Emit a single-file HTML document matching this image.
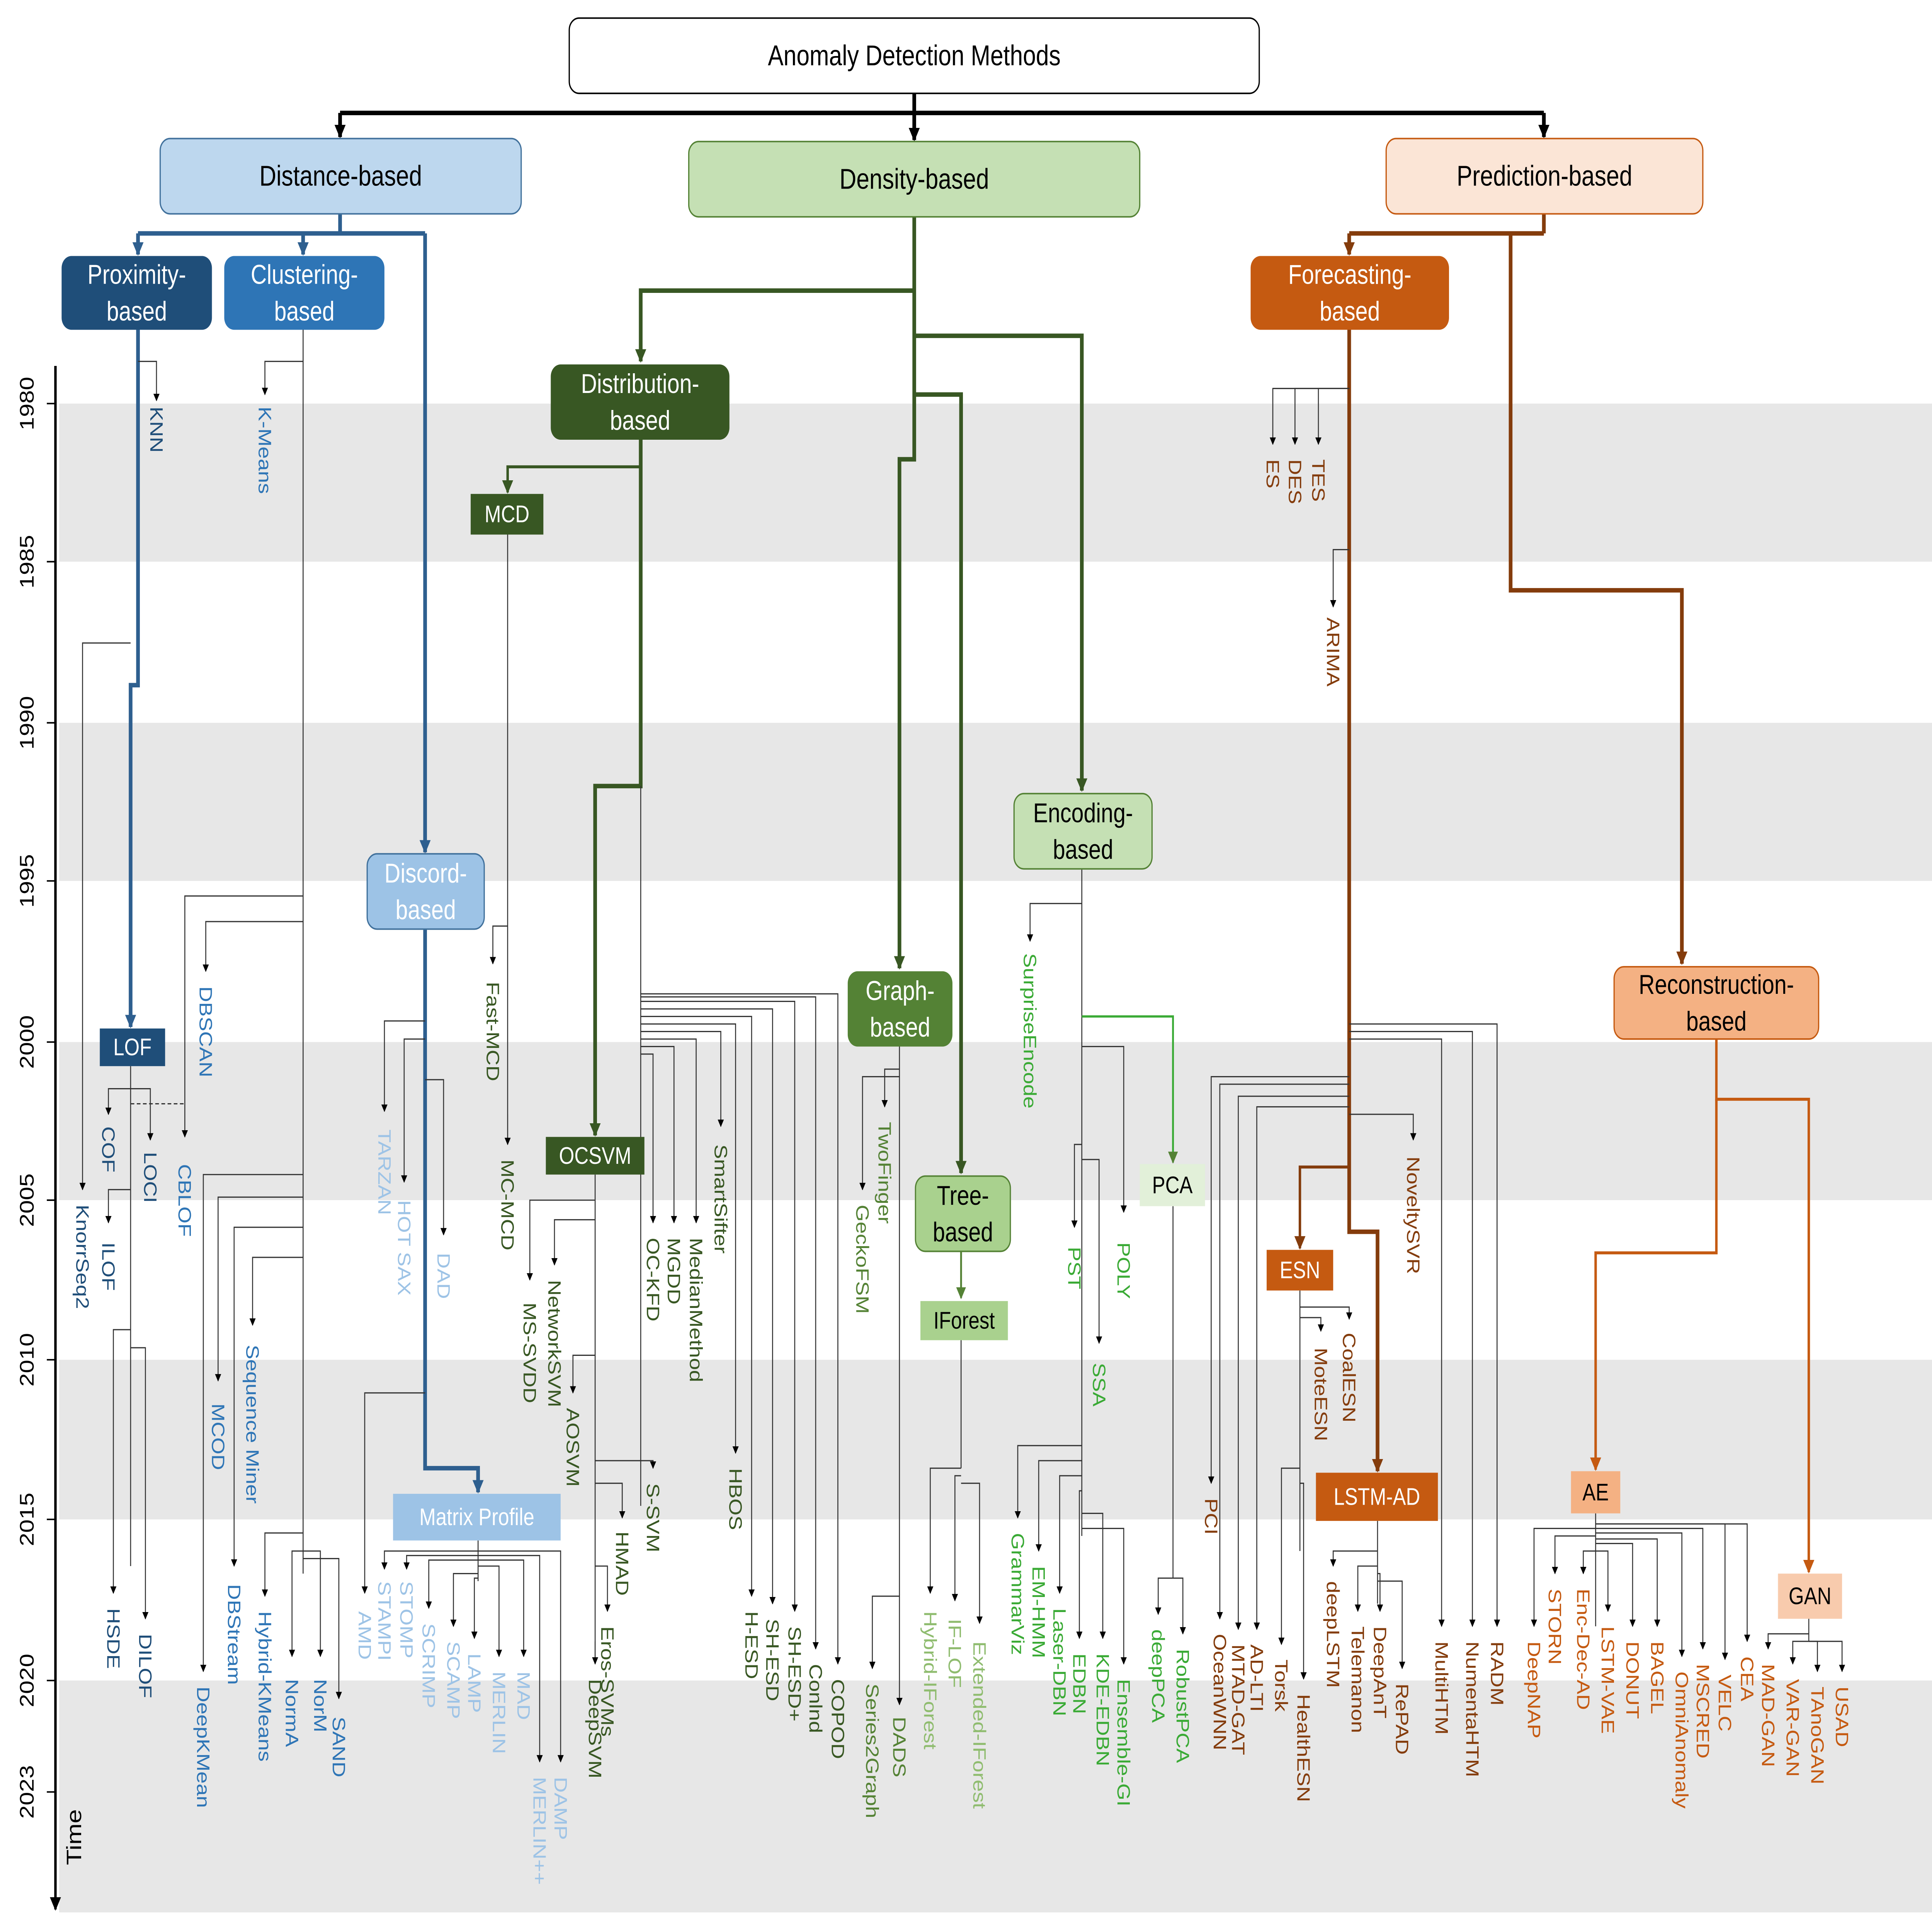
<!DOCTYPE html>
<html><head><meta charset="utf-8">
<style>html,body{margin:0;padding:0;background:#fff;overflow:hidden;width:100vw;height:100vh}svg{display:block;width:100vw;height:100vh}</style>
</head><body>
<svg id="s" xmlns="http://www.w3.org/2000/svg" viewBox="0 0 1568 1283" preserveAspectRatio="none" font-family="Liberation Sans, sans-serif">
<defs>
<marker id="a" viewBox="0 0 10 10" refX="9" refY="5" markerWidth="5" markerHeight="5" orient="auto" markerUnits="userSpaceOnUse"><path d="M0,0L10,5L0,10z" fill="#000"/></marker>
<marker id="ab" viewBox="0 0 10 10" refX="9" refY="5" markerWidth="9" markerHeight="9" orient="auto" markerUnits="userSpaceOnUse"><path d="M0,0L10,5L0,10z" fill="#000"/></marker>
<marker id="ablue" viewBox="0 0 10 10" refX="9" refY="5" markerWidth="9" markerHeight="9" orient="auto" markerUnits="userSpaceOnUse"><path d="M0,0L10,5L0,10z" fill="#2e5f8f"/></marker>
<marker id="agreen" viewBox="0 0 10 10" refX="9" refY="5" markerWidth="9" markerHeight="9" orient="auto" markerUnits="userSpaceOnUse"><path d="M0,0L10,5L0,10z" fill="#385723"/></marker>
<marker id="abrown" viewBox="0 0 10 10" refX="9" refY="5" markerWidth="9" markerHeight="9" orient="auto" markerUnits="userSpaceOnUse"><path d="M0,0L10,5L0,10z" fill="#843c0c"/></marker>
<marker id="aorange" viewBox="0 0 10 10" refX="9" refY="5" markerWidth="9" markerHeight="9" orient="auto" markerUnits="userSpaceOnUse"><path d="M0,0L10,5L0,10z" fill="#c55a11"/></marker>
<marker id="alg" viewBox="0 0 10 10" refX="9" refY="5" markerWidth="8" markerHeight="8" orient="auto" markerUnits="userSpaceOnUse"><path d="M0,0L10,5L0,10z" fill="#548235"/></marker>
</defs>
<g id="g"></g>
</svg>
<script>
var g=document.getElementById('g'),NS='http://www.w3.org/2000/svg';
function E(t,a,txt){var e=document.createElementNS(NS,t);for(var k in a)e.setAttribute(k,a[k]);if(txt!=null)e.textContent=txt;g.appendChild(e);return e;}
function P(pts,c,w,m,dash){var a={points:pts.map(function(p){return p.join(',')}).join(' '),fill:'none',stroke:c||'#222',"stroke-width":w||0.8};if(m)a['marker-end']='url(#'+m+')';if(dash)a['stroke-dasharray']=dash;E('polyline',a);}
function T(x,y,s,c,fs){E('text',{x:x,y:y,fill:c,"font-size":fs||14.5,"dominant-baseline":"central",transform:'rotate(90 '+x+' '+y+')'},s);}
function B(x1,y1,x2,y2,fill,txt,tc,fs,stroke){E('rect',{x:x1,y:y1,width:x2-x1,height:y2-y1,rx:(y2-y1)>40?8:0,fill:fill,stroke:stroke||'none',"stroke-width":1});
 var lines=txt.split('|'),cx=(x1+x2)/2,cy=(y1+y2)/2,lh=(fs||19)*1.35;
 lines.forEach(function(l,i){E('text',{x:cx,y:cy+(i-(lines.length-1)/2)*lh,fill:tc,"font-size":fs||19,"text-anchor":"middle","dominant-baseline":"central"},l);});}
function L(tx,by,lx,ty,s,c,ay){P([[tx,by],[lx,by],[lx,ay||ty-4]],'#333',0.8,'a');T(lx,ty,s,c);}
[[268,373],[480,585],[692,797],[903,1009],[1116,1270]].forEach(function(b){E('rect',{x:48,y:b[0],width:1520,height:b[1]-b[0],fill:'#e7e7e7'});});
P([[45,243],[45,1268]],'#000',2,'ab');
[['1980',268],['1985',373],['1990',480],['1995',585],['2000',692],['2005',797],['2010',903],['2015',1009],['2020',1116],['2023',1190]].forEach(function(y){
 P([[38,y[1]],[45,y[1]]],'#000',1);
 E('text',{x:22,y:y[1],fill:'#000',"font-size":16,"text-anchor":"middle","dominant-baseline":"central",transform:'rotate(-90 22 '+y[1]+')'},y[0]);});
E('text',{x:60,y:1220,fill:'#000',"font-size":17,"text-anchor":"middle","dominant-baseline":"central",transform:'rotate(-90 60 1220)'},'Time');
P([[742,62],[742,75]],'#000',3);P([[276,75],[1253,75]],'#000',3);
P([[276,75],[276,91]],'#000',3,'ab');P([[742,75],[742,93]],'#000',3,'ab');P([[1253,75],[1253,91]],'#000',3,'ab');
var BL='#2e5f8f';
P([[276,142],[276,155]],BL,3);P([[112,155],[345,155]],BL,3);
P([[112,155],[112,169]],BL,3,'ablue');P([[246,155],[246,169]],BL,3,'ablue');
P([[345,155],[345,566]],BL,3,'ablue');
P([[112,219],[112,455],[106,455],[106,682]],BL,3,'ablue');
P([[345,617],[345,975],[388,975],[388,991]],BL,3,'ablue');
var C1='#1f4e79',C2='#2e75b6',C3='#9dc3e6';
L(112,240,127,270,'KNN',C1);
L(106,427,67,800,'KnorrSeq2',C1,790);
P([[106,708],[106,1040]],'#333',0.8);
L(106,723,88,748,'COF',C1,740);L(106,723,122,765,'LOCI',C1,757);
P([[106,733],[150,733]],'#333',0.8,null,'3,2');
L(106,790,88,825,'ILOF',C1,812);
L(106,883,92,1068,'HSDE',C1,1058);L(106,895,118,1085,'DILOF',C1,1075);
P([[246,219],[246,1045]],'#333',0.8);
L(246,240,215,270,'K-Means',C2,262);
L(246,595,150,773,'CBLOF',C2,755);
L(246,612,167,655,'DBSCAN',C2,645);
L(246,780,165,1120,'DeepKMean',C2,1110);
L(246,795,177,932,'MCOD',C2,917);
L(246,815,190,1052,'DBStream',C2,1040);
L(246,835,205,893,'Sequence Miner',C2,880);
L(246,1018,215,1070,'Hybrid-KMeans',C2,1060);
L(246,1030,237,1115,'NormA',C2,1100);
L(246,1030,260,1115,'NorM',C2,1100);
L(246,1035,275,1140,'SAND',C2,1128);
L(345,678,312,750,'TARZAN',C3,738);
L(345,690,328,797,'HOT SAX',C3,785);
L(345,717,360,832,'DAD',C3,820);
L(345,925,296,1070,'AMD',C3,1058);
P([[388,1023],[388,1050]],'#333',0.8);
L(388,1030,312,1050,'STAMPI',C3,1042);
L(388,1033,330,1050,'STOMP',C3,1042);
L(388,1036,348,1078,'SCRIMP',C3,1068);
L(388,1045,368,1090,'SCAMP',C3,1080);
L(388,1048,385,1098,'LAMP',C3,1088);
L(388,1040,405,1110,'MERLIN',C3,1100);
L(388,1036,425,1110,'MAD',C3,1100);
L(388,1030,455,1180,'DAMP',C3,1170);
L(388,1033,438,1180,'MERLIN++',C3,1170);
B(130,92,423,142,'#bdd7ee','Distance-based','#000',19,'#41719c');
B(50,170,172,219,'#1f4e79','Proximity-|based','#fff',18);
B(182,170,312,219,'#2e75b6','Clustering-|based','#fff',18);
B(298,567,393,617,'#9dc3e6','Discord-|based','#fff',18,'#41719c');
B(319,992,455,1023,'#9dc3e6','Matrix Profile','#fff',16);
B(81,683,134,708,'#1f4e79','LOF','#fff',16);
var GR='#385723';
P([[742,144],[742,305],[730,305],[730,643]],GR,3,'agreen');
P([[742,193],[520,193],[520,240]],GR,3,'agreen');
P([[742,223],[878,223],[878,525]],GR,3,'agreen');
P([[742,262],[780,262],[780,779]],GR,3,'agreen');
P([[520,292],[520,310],[412,310],[412,327]],GR,2,'agreen');
P([[520,292],[520,522],[483,522],[483,754]],GR,3,'agreen');
P([[520,522],[520,1000]],'#333',0.8);
var D1='#385723',D2='#548235',D3='#8fbc6f',D4='#3aaa35';
P([[412,355],[412,760]],'#333',0.8);
L(412,615,400,652,'Fast-MCD',D1,640);
L(412,740,412,770,'MC-MCD',D1,760);
P([[483,780],[483,1105]],'#333',0.8);
L(483,797,430,865,'MS-SVDD',D1,850);
L(483,810,450,850,'NetworkSVM',D1,840);
L(483,900,465,935,'AOSVM',D1,925);
L(483,970,530,985,'S-SVM',D1,975);
L(483,985,505,1017,'HMAD',D1,1008);
L(483,1040,493,1080,'Eros-SVMs',D1,1070);
L(483,1090,483,1115,'DeepSVM',D1,1105);
L(520,700,530,822,'OC-KFD',D1,812);
L(520,695,547,822,'MGDD',D1,812);
L(520,690,565,822,'MedianMethod',D1,812);
L(520,685,585,760,'SmartSifter',D1,748);
L(520,680,597,975,'HBOS',D1,965);
L(520,675,610,1070,'H-ESD',D1,1060);
L(520,670,627,1075,'SH-ESD',D1,1065);
L(520,665,645,1080,'SH-ESD+',D1,1070);
L(520,662,662,1105,'Conlnd',D1,1095);
L(520,660,680,1115,'COPOD',D1,1105);
P([[730,695],[730,1130]],'#333',0.8);
L(730,710,718,745,'TwoFinger',D2,735);
L(730,715,700,800,'GeckoFSM',D2,790);
L(730,1060,708,1118,'Series2Graph',D2,1108);
L(730,1130,730,1140,'DADS',D2,1132);
P([[780,831],[780,862]],'#548235',1.5,'alg');
P([[780,890],[780,975]],'#333',0.8);
L(780,975,755,1070,'Hybrid-IForest',D3,1058);
L(780,980,775,1075,'IF-LOF',D3,1063);
L(780,985,795,1090,'Extended-IForest',D3,1078);
P([[878,577],[878,1020]],'#333',0.8);
L(878,600,836,633,'SurpriseEncode',D4,625);
P([[878,675],[952,675],[952,772]],'#3aaa35',1.5,'alg');
L(878,695,912,825,'POLY',D4,805);
L(878,760,872,828,'PST',D4,815);
L(878,770,892,905,'SSA',D4,892);
L(878,960,826,1018,'GrammarViz',D4,1008);
L(878,970,843,1040,'EM-HMM',D4,1030);
L(878,980,860,1068,'Laser-DBN',D4,1058);
L(878,990,876,1098,'EDBN',D4,1088);
L(878,1005,895,1098,'KDE-EDBN',D4,1088);
L(878,1015,912,1115,'Ensemble-GI',D4,1105);
P([[952,801],[952,1048]],'#333',0.8);
L(952,1048,940,1082,'deepPCA',D4,1072);
L(952,1048,960,1095,'RobustPCA',D4,1085);
B(559,94,925,144,'#c5e0b4','Density-based','#000',19,'#548235');
B(447,242,592,292,'#385723','Distribution-|based','#fff',18);
B(382,328,441,355,'#385723','MCD','#fff',16);
B(443,755,523,780,'#385723','OCSVM','#fff',16);
B(688,645,773,695,'#548235','Graph-|based','#fff',18);
B(743,781,820,831,'#a9d18e','Tree-|based','#000',18,'#548235');
B(747,864,818,890,'#a9d18e','IForest','#000',16);
B(823,527,935,577,'#c5e0b4','Encoding-|based','#000',18,'#548235');
B(925,773,978,801,'#e2f0d9','PCA','#000',16);
var BR='#843c0c',OR='#c55a11';
P([[1253,142],[1253,155]],BR,3);P([[1095,155],[1253,155]],BR,3);
P([[1095,155],[1095,169]],BR,3,'abrown');
P([[1226,155],[1226,392],[1365,392],[1365,640]],BR,3,'abrown');
P([[1095,219],[1095,818],[1118,818],[1118,977]],BR,3,'abrown');
P([[1095,775],[1055,775],[1055,829]],BR,2,'abrown');
var F1='#843c0c';
P([[1033,258],[1095,258]],'#333',0.8);
L(1095,258,1033,305,'ES',F1,295);L(1095,258,1051,305,'DES',F1,295);L(1095,258,1070,305,'TES',F1,295);
L(1095,365,1082,410,'ARIMA',F1,403);
L(1095,680,1215,1090,'RADM',F1,1080);
L(1095,685,1195,1090,'NumentaHTM',F1,1080);
L(1095,690,1170,1090,'MultiHTM',F1,1080);
L(1095,715,983,995,'PCI',F1,985);
L(1095,720,990,1085,'OceanWNN',F1,1075);
L(1095,728,1005,1092,'MTAD-GAT',F1,1082);
L(1095,735,1020,1092,'AD-LTI',F1,1082);
L(1095,740,1147,768,'NoveltySVR',F1,757);
P([[1055,857],[1055,1030]],'#333',0.8);
L(1055,868,1095,885,'CoalESN',F1,876);
L(1055,875,1072,895,'MoteESN',F1,884);
L(1055,975,1040,1102,'Torsk',F1,1092);
L(1055,985,1058,1125,'HealthESN',F1,1115);
P([[1118,1010],[1118,1065]],'#333',0.8);
L(1118,1030,1082,1050,'deepLSTM',F1,1040);
L(1118,1040,1102,1080,'Telemanon',F1,1070);
L(1118,1045,1120,1080,'DeepAnT',F1,1070);
L(1118,1050,1138,1118,'RePAD',F1,1108);
P([[1393,690],[1393,730],[1468,730],[1468,1044]],OR,2,'aorange');
P([[1393,730],[1393,832],[1295,832],[1295,976]],OR,2,'aorange');
P([[1295,1005],[1295,1080]],'#333',0.8);
L(1295,1015,1245,1090,'DeepNAP',OR,1080);
L(1295,1020,1262,1055,'STORN',OR,1045);
L(1295,1030,1285,1055,'Enc-Dec-AD',OR,1045);
L(1295,1030,1305,1080,'LSTM-VAE',OR,1070);
L(1295,1025,1325,1090,'DONUT',OR,1080);
L(1295,1022,1345,1090,'BAGEL',OR,1080);
L(1295,1018,1365,1110,'OmniAnomaly',OR,1100);
L(1295,1015,1382,1105,'MSCRED',OR,1095);
L(1295,1012,1400,1112,'VELC',OR,1102);
L(1295,1012,1418,1100,'CEA',OR,1090);
P([[1468,1075],[1468,1090]],'#333',0.8);
L(1468,1085,1435,1105,'MAD-GAN',OR,1095);
L(1468,1090,1455,1115,'VAR-GAN',OR,1105);
L(1468,1090,1475,1120,'TAnoGAN',OR,1110);
L(1468,1090,1495,1120,'USAD',OR,1110);
B(1125,92,1382,142,'#fbe5d6','Prediction-based','#000',19,'#c55a11');
B(1015,170,1176,219,'#c55a11','Forecasting-|based','#fff',18);
B(1028,830,1082,857,'#c55a11','ESN','#fff',16);
B(1068,978,1167,1010,'#c55a11','LSTM-AD','#fff',16);
B(1310,642,1476,690,'#f4b183','Reconstruction-|based','#000',18,'#c55a11');
B(1275,977,1315,1005,'#f4b183','AE','#000',16);
B(1443,1045,1495,1075,'#f8cbad','GAN','#000',16);
B(462,12,1022,62,'#fff','Anomaly Detection Methods','#000',19,'#000');
</script>
</body></html>
